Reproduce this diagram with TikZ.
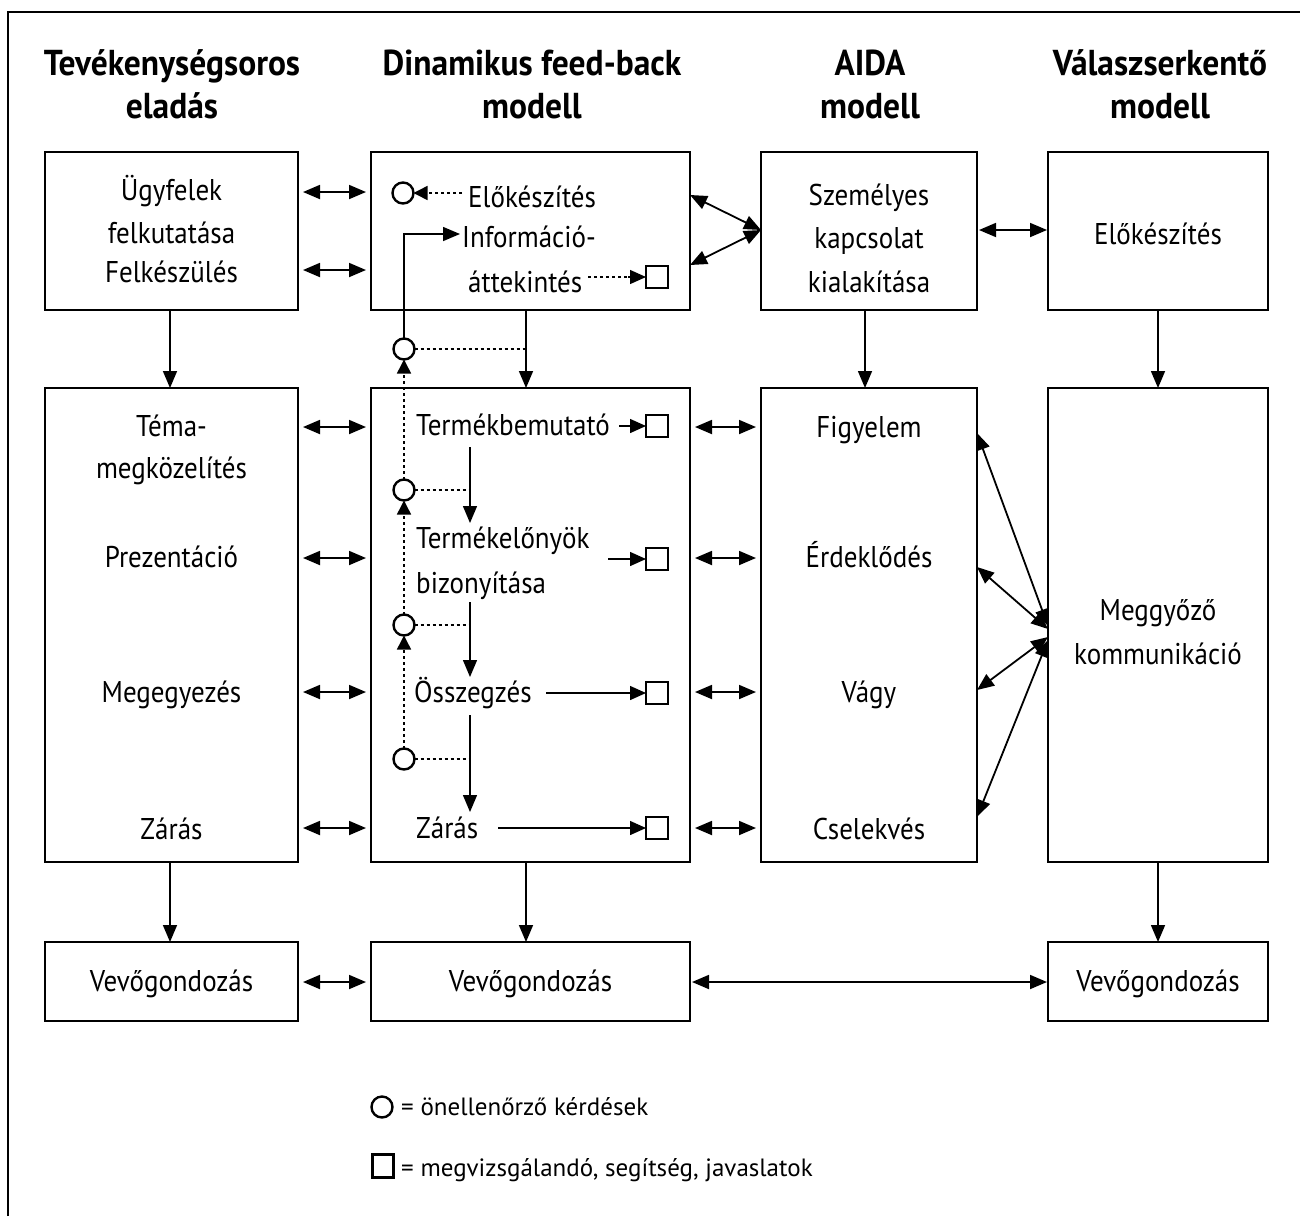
\documentclass[tikz,border=0pt]{standalone}
\usepackage{fontspec}
\setmainfont{PT Sans}[FakeStretch=0.9]
\newfontfamily\headfont{PT Sans}[FakeStretch=0.93]
\newfontfamily\legfont{PT Sans}
\usetikzlibrary{arrows.meta}
\begin{document}
\begin{tikzpicture}[x=1pt,y=-1pt,
  box/.style={draw, line width=2.4pt, inner sep=0pt, outer sep=0pt, rectangle},
  txt/.style={anchor=base, inner sep=0pt, font=\fontsize{30}{36}\selectfont},
  ltxt/.style={anchor=base west, inner sep=0pt, font=\fontsize{30}{36}\selectfont},
  legtxt/.style={anchor=base west, inner sep=0pt, font=\legfont\fontsize{25}{28}\selectfont},
  head/.style={anchor=base, inner sep=0pt, font=\headfont\bfseries\fontsize{36}{40}\selectfont},
  circ/.style={draw, circle, line width=2.4pt, minimum size=21pt, inner sep=0pt, outer sep=0pt},
  sq/.style={draw, rectangle, line width=2.4pt, minimum size=22pt, inner sep=0pt, outer sep=0pt},
  tip/.tip={Triangle[length=17pt,width=14pt]},
  dbl/.style={line width=1.8pt, {tip}-{tip}},
  dblg/.style={line width=1.8pt, {tip}-{tip}, shorten <=5pt, shorten >=5pt},
  varr/.style={line width=1.6pt, -{tip}},
  sarr/.style={line width=1.4pt, -{Triangle[length=16pt,width=14pt]}},
  dotl/.style={line width=1.5pt, dash pattern=on 3pt off 3pt},
  dotarr/.style={line width=1.5pt, dash pattern=on 3pt off 3pt, -{Triangle[length=14pt,width=14pt]}},
]
\useasboundingbox (0,0) rectangle (1300,1216);
\fill[white] (0,0) rectangle (1300,1216);
% frame
\draw[line width=2pt] (8,1216) -- (8,12) -- (1300,12);

% headings
\node[head] (h1a) at (172,75) {Tevékenységsoros};
\node[head] (h1b) at (172,118) {eladás};
\node[head] (h2a) at (532,75) {Dinamikus feed-back};
\node[head] (h2b) at (532,118) {modell};
\node[head] (h3a) at (870,75) {AIDA};
\node[head] (h3b) at (870,118) {modell};
\node[head] (h4a) at (1160,75) {Válaszserkentő};
\node[head] (h4b) at (1160,118) {modell};

% boxes
\node[box, minimum width=253pt, minimum height=158pt] (A1) at (171.5,231) {};
\node[box, minimum width=319pt, minimum height=158pt] (B1) at (530.5,231) {};
\node[box, minimum width=216pt, minimum height=158pt] (C1) at (869,231) {};
\node[box, minimum width=220pt, minimum height=158pt] (D1) at (1158,231) {};
\node[box, minimum width=253pt, minimum height=474pt] (A2) at (171.5,625) {};
\node[box, minimum width=319pt, minimum height=474pt] (B2) at (530.5,625) {};
\node[box, minimum width=216pt, minimum height=474pt] (C2) at (869,625) {};
\node[box, minimum width=220pt, minimum height=474pt] (D2) at (1158,625) {};
\node[box, minimum width=253pt, minimum height=79pt] (A3) at (171.5,981.5) {};
\node[box, minimum width=319pt, minimum height=79pt] (B3) at (530.5,981.5) {};
\node[box, minimum width=220pt, minimum height=79pt] (D3) at (1158,981.5) {};

% texts column A
\node[txt] (a1) at (171.5,200) {Ügyfelek};
\node[txt] (a2) at (171.5,243) {felkutatása};
\node[txt] (a3) at (171.5,282) {Felkészülés};
\node[txt] (a4) at (171.5,436) {Téma-};
\node[txt] (a5) at (171.5,478) {megközelítés};
\node[txt] (a6) at (171.5,567) {Prezentáció};
\node[txt] (a7) at (171.5,702) {Megegyezés};
\node[txt] (a8) at (171.5,839) {Zárás};
\node[txt] (a9) at (171.5,991) {Vevőgondozás};

% texts column B
\node[ltxt] (e1) at (468,207) {Előkészítés};
\node[ltxt] (i1) at (462,247) {Információ-};
\node[ltxt] (i2) at (468,292) {áttekintés};
\node[ltxt] (t1) at (416,435) {Termékbemutató};
\node[ltxt] (t2) at (416,548) {Termékelőnyök};
\node[ltxt] (t2b) at (416,593) {bizonyítása};
\node[ltxt] (t3) at (414,702) {Összegzés};
\node[ltxt] (t4) at (416,838) {Zárás};
\node[txt] (b9) at (530.5,991) {Vevőgondozás};

% texts column C
\node[txt] (c1t) at (869,205) {Személyes};
\node[txt] (c2t) at (869,248) {kapcsolat};
\node[txt] (c3t) at (869,292) {kialakítása};
\node[txt] (c4t) at (869,437) {Figyelem};
\node[txt] (c5t) at (869,567) {Érdeklődés};
\node[txt] (c6t) at (869,702) {Vágy};
\node[txt] (c7t) at (869,839) {Cselekvés};

% texts column D
\node[txt] (d1t) at (1158,244) {Előkészítés};
\node[txt] (d2t) at (1158,620) {Meggyőző};
\node[txt] (d3t) at (1158,664) {kommunikáció};
\node[txt] (d9) at (1158,991) {Vevőgondozás};

% circles and squares in B
\node[circ] (c0) at (403,193) {};
\node[circ] (k1) at (404,349) {};
\node[circ] (k2) at (404,490) {};
\node[circ] (k3) at (404,625) {};
\node[circ] (k4) at (404,759) {};
\node[sq] (s1) at (657,277) {};
\node[sq] (s2) at (657,426) {};
\node[sq] (s3) at (657,559) {};
\node[sq] (s4) at (657,693) {};
\node[sq] (s5) at (657,828) {};

% vertical arrows between rows
\coordinate (va) at ([xshift=-1.5pt]A1.south);
\coordinate (vb) at ([xshift=-4.5pt]B1.south);
\coordinate (vc) at ([xshift=-4pt]C1.south);
\coordinate (vd) at (D1.south);
\draw[varr] (va) -- (va |- A2.north);
\draw[varr] (vb) -- (vb |- B2.north);
\draw[varr] (vc) -- (vc |- C2.north);
\draw[varr] (vd) -- (vd |- D2.north);
\draw[varr] (va |- A2.south) -- (va |- A3.north);
\draw[varr] (vb |- B2.south) -- (vb |- B3.north);
\draw[varr] (vd |- D2.south) -- (vd |- D3.north);

% A-B double arrows
\draw[dblg] (A1.east |- 0,192) -- (B1.west |- 0,192);
\draw[dblg] (A1.east |- 0,270) -- (B1.west |- 0,270);
\draw[dblg] (A2.east |- 0,427) -- (B2.west |- 0,427);
\draw[dblg] (A2.east |- 0,558) -- (B2.west |- 0,558);
\draw[dblg] (A2.east |- 0,692) -- (B2.west |- 0,692);
\draw[dblg] (A2.east |- 0,828) -- (B2.west |- 0,828);
\draw[dblg] (A3.east |- 0,982) -- (B3.west |- 0,982);

% B-C arrows
\draw[dbl] (B1.east |- 0,195) -- (C1.west |- 0,230);
\draw[dbl] (B1.east |- 0,265) -- (C1.west |- 0,230);
\draw[dblg] (B2.east |- 0,427) -- (C2.west |- 0,427);
\draw[dblg] (B2.east |- 0,558) -- (C2.west |- 0,558);
\draw[dblg] (B2.east |- 0,692) -- (C2.west |- 0,692);
\draw[dblg] (B2.east |- 0,828) -- (C2.west |- 0,828);
\draw[dbl, shorten <=2pt, shorten >=1pt] (B3.east |- 0,982) -- (D3.west |- 0,982);

% C-D arrows
\draw[dbl, shorten <=2pt, shorten >=1pt] (C1.east |- 0,230) -- (D1.west |- 0,230);
\draw[dbl] (C2.east |- 0,433) -- (D2.west |- 0,626);
\draw[dbl] (C2.east |- 0,567) -- (D2.west |- 0,629);
\draw[dbl] (C2.east |- 0,690) -- (D2.west |- 0,637);
\draw[dbl] (C2.east |- 0,817) -- (D2.west |- 0,640);

% feedback model internals
\draw[dotarr] ([xshift=-6pt]c0.east -| e1.west) -- (c0.east);
\draw[varr, line width=1.5pt] (k1.north) |- ([xshift=-2pt]i1.west |- 0,234);
\draw[dotl] ([xshift=6pt]i2.east |- s1) -- ([xshift=-14pt]s1.west);
\draw[sarr] ([xshift=-18pt]s1.west) -- (s1.west);
\draw[dotl] (k1.east) -- (k1.east -| vb);
\coordinate (iv) at (470,0);
\draw[varr, line width=1.4pt] (iv |- 0,447) -- (iv |- 0,523);
\draw[varr, line width=1.4pt] (iv |- 0,602) -- (iv |- 0,677);
\draw[varr, line width=1.4pt] (iv |- 0,715) -- (iv |- 0,812);
\draw[dotl] (k2.east) -- (k2.east -| iv);
\draw[dotl] (k3.east) -- (k3.east -| iv);
\draw[dotl] (k4.east) -- (k4.east -| iv);
\draw[dotarr] (k2.north) -- (k1.south);
\draw[dotarr] (k3.north) -- (k2.south);
\draw[dotarr] (k4.north) -- (k3.south);
\draw[sarr] ([xshift=-27pt]s2.west) -- (s2.west);
\draw[sarr] ([xshift=-38pt]s3.west) -- (s3.west);
\draw[sarr] ([xshift=-100pt]s4.west) -- (s4.west);
\draw[sarr] ([xshift=-148pt]s5.west) -- (s5.west);

% legend
\node[circ] (lc) at (382,1107) {};
\node[legtxt] (l1) at (401,1115) {= önellenőrző kérdések};
\node[sq, minimum width=21pt, minimum height=23pt] (ls) at (383,1166) {};
\node[legtxt] (l2) at (401,1176) {= megvizsgálandó, segítség, javaslatok};
\end{tikzpicture}
\end{document}
